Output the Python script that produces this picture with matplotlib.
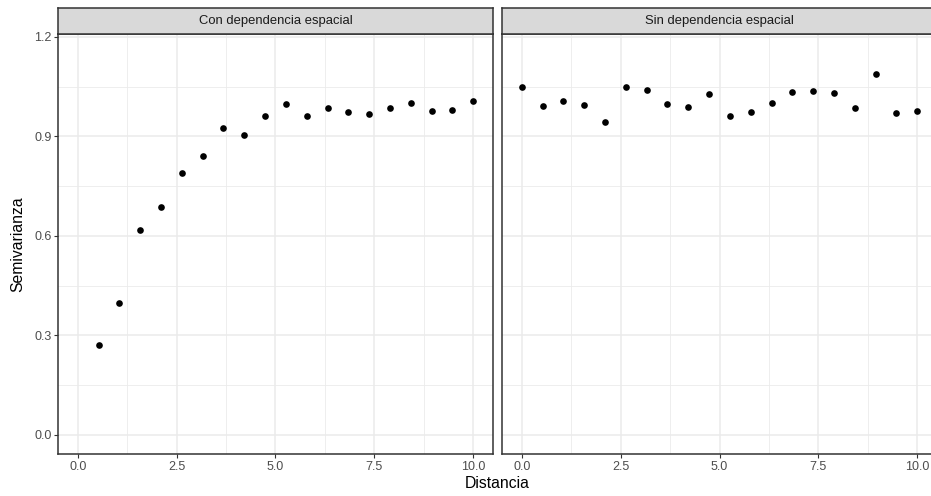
import matplotlib
matplotlib.use("Agg")
import matplotlib.pyplot as plt
from matplotlib.ticker import MultipleLocator

plt.rcParams['font.family'] = ['Liberation Sans', 'DejaVu Sans']

# ---- data ----
panels = ["Con dependencia espacial", "Sin dependencia espacial"]
dist_con = [0.53, 1.05, 1.58, 2.11, 2.63, 3.16, 3.68, 4.21, 4.74, 5.26,
            5.79, 6.32, 6.84, 7.37, 7.89, 8.42, 8.95, 9.47, 10.0]
semi_con = [0.272, 0.399, 0.617, 0.687, 0.790, 0.840, 0.925, 0.903, 0.962, 0.997,
            0.962, 0.986, 0.973, 0.968, 0.986, 1.000, 0.975, 0.980, 1.007]
dist_sin = [0.0, 0.53, 1.05, 1.58, 2.11, 2.63, 3.16, 3.68, 4.21, 4.74,
            5.26, 5.79, 6.32, 6.84, 7.37, 7.89, 8.42, 8.95, 9.47, 10.0]
semi_sin = [1.050, 0.991, 1.006, 0.995, 0.944, 1.049, 1.040, 0.997, 0.989, 1.028,
            0.962, 0.974, 1.000, 1.034, 1.038, 1.031, 0.985, 1.089, 0.969, 0.976]
x_ticks = [0.0, 2.5, 5.0, 7.5, 10.0]
x_ticklabels = ["0.0", "2.5", "5.0", "7.5", "10.0"]
y_ticks = [0.0, 0.3, 0.6, 0.9, 1.2]
y_ticklabels = ["0.0", "0.3", "0.6", "0.9", "1.2"]

W, H = 931, 496
fig = plt.figure(figsize=(W / 100, H / 100), dpi=100)
fig.patch.set_facecolor("white")

def fx(px):
    return px / W

def fy(py):
    return 1 - py / H

panel_left = [58, 502]
panel_w = 435
panel_top, panel_bot = 34, 454
strip_top = 8

data = [(dist_con, semi_con), (dist_sin, semi_sin)]
border = "#333333"

for i, (title, (xs, ys)) in enumerate(zip(panels, data)):
    l = panel_left[i]
    ax = fig.add_axes([fx(l), fy(panel_bot), panel_w / W, (panel_bot - panel_top) / H])
    ax.set_facecolor("white")
    ax.set_xlim(-0.5, 10.5)
    ax.set_ylim(-0.0575, 1.2085)
    ax.xaxis.set_major_locator(MultipleLocator(2.5))
    ax.xaxis.set_minor_locator(MultipleLocator(1.25))
    ax.yaxis.set_major_locator(MultipleLocator(0.3))
    ax.yaxis.set_minor_locator(MultipleLocator(0.15))
    ax.set_xticks(x_ticks)
    ax.set_xticklabels(x_ticklabels)
    ax.set_yticks(y_ticks)
    ax.set_yticklabels(y_ticklabels if i == 0 else [])
    ax.grid(which="major", color="#EBEBEB", linewidth=1.15)
    ax.grid(which="minor", color="#EBEBEB", linewidth=0.6)
    ax.set_axisbelow(True)
    for s in ax.spines.values():
        s.set_color(border)
        s.set_linewidth(1.1)
    ax.tick_params(which="major", length=2.9, width=0.8, color=border,
                   labelsize=9, labelcolor="#4D4D4D", pad=1.8)
    ax.tick_params(which="minor", length=0)
    if i == 1:
        ax.tick_params(axis="y", which="major", length=0)
    ax.plot(xs, ys, "o", color="black", markersize=4.8, markeredgewidth=0, clip_on=False)

    sax = fig.add_axes([fx(l), fy(panel_top), panel_w / W, (panel_top - strip_top) / H])
    sax.set_facecolor("#D9D9D9")
    sax.set_xticks([])
    sax.set_yticks([])
    for s in sax.spines.values():
        s.set_color(border)
        s.set_linewidth(1.1)
    sax.text(0.5, 0.5, title, transform=sax.transAxes, ha="center", va="center",
             fontsize=9.4, color="#1A1A1A")

fig.text(fx((58 + 502 + panel_w) / 2), fy(484), "Distancia", ha="center", va="center",
         fontsize=11.3, color="black")
fig.text(fx(18), fy(244), "Semivarianza", ha="center", va="center", rotation=90,
         fontsize=11.3, color="black")

fig.savefig("out.png", dpi=100)
